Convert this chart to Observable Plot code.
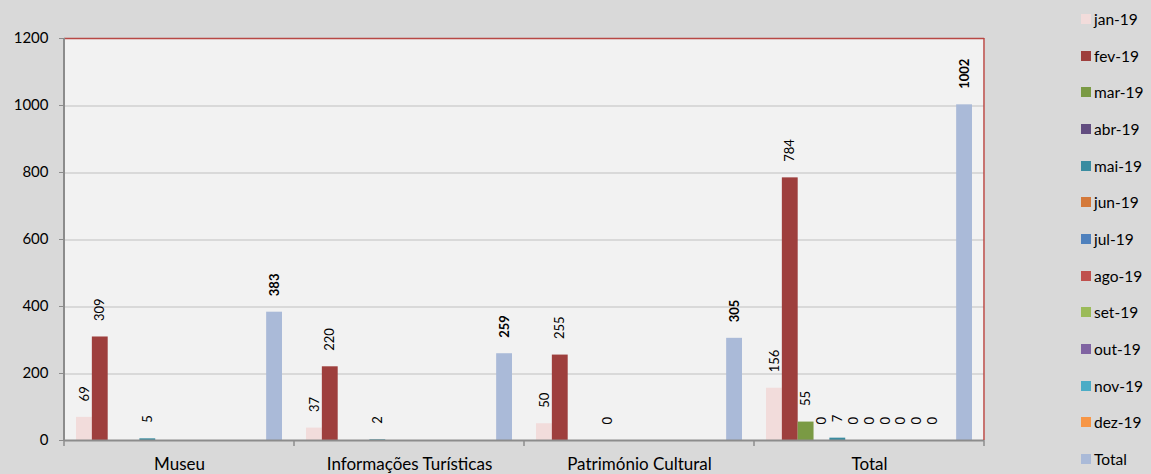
<!DOCTYPE html>
<html><head><meta charset="utf-8">
<script src="https://cdn.jsdelivr.net/npm/d3@7"></script>
<script src="https://cdn.jsdelivr.net/npm/@observablehq/plot@0.6"></script>
<style>
html,body{margin:0;padding:0;background:#d9d9d9;}
#wrap{position:relative;width:1151px;height:474px;overflow:hidden;background:#d9d9d9}
#legend{position:absolute;left:1081px;top:0;font-family:Lato,"Open Sans",sans-serif;font-size:15.5px;color:#000}
.item{position:absolute;left:0;height:18px;display:flex;align-items:center;white-space:nowrap}
.sw{width:10px;height:10px;margin-right:3px;flex:none}
</style></head><body><div id="wrap"><div id="chart"></div><div id="legend"></div></div>
<script>
const groups = ["Museu", "Informações Turísticas", "Património Cultural", "Total"];
const series = ["jan-19","fev-19","mar-19","abr-19","mai-19","jun-19","jul-19","ago-19","set-19","out-19","nov-19","dez-19","Total"];
const colors = ["#f2dcdb","#9e3f3d","#7a9a44","#624d80","#3a8ca0","#d4793a","#4f81bd","#c0504d","#9bbb59","#8064a2","#4bacc6","#f79646","#aabad8"];
const museu       = [69, 309, null, null, 5, null, null, null, null, null, null, null, 383];
const informacoes = [37, 220, null, null, 2, null, null, null, null, null, null, null, 259];
const patrimonio  = [50, 255, null, null, 0, null, null, null, null, null, null, null, 305];
const total       = [156, 784, 55, 0, 7, 0, 0, 0, 0, 0, 0, null, 1002];
const yTicks = [0, 200, 400, 600, 800, 1000, 1200];

const rows = [];
[museu, informacoes, patrimonio, total].forEach((vals, gi) =>
  vals.forEach((v, si) => { if (v != null) rows.push({group: groups[gi], series: series[si], value: v}); }));

const font = "Lato, 'Open Sans', sans-serif";
const plot = Plot.plot({
  width: 1151, height: 474,
  marginLeft: 64, marginRight: 167, marginTop: 38, marginBottom: 34,
  style: {background: "transparent", fontFamily: font, fontSize: "15px", color: "#000", overflow: "visible"},
  facet: {data: rows, x: "group"},
  fx: {domain: groups, paddingInner: 0, paddingOuter: 0, round: false, label: null, axis: "bottom", tickSize: 0, tickPadding: 17},
  x: {domain: series, axis: null, paddingInner: 0, paddingOuter: 0.757, round: false},
  y: {domain: [0, 1200], ticks: yTicks, tickSize: 5, tickPadding: 11, label: null, tickFormat: d => String(d)},
  color: {domain: series, range: colors},
  marks: [
    Plot.frame({fill: "#f2f2f2", stroke: "none", shapeRendering: "crispEdges"}),
    Plot.ruleY(yTicks.slice(1, -1), {stroke: "#d9d9d9", strokeWidth: 2, shapeRendering: "crispEdges"}),
    Plot.barY(rows, {x: "series", y: "value", fill: "series", insetLeft: 0, insetRight: 0}),
    Plot.text(rows, {filter: d => d.series !== "Total", x: "series", y: "value", text: d => String(d.value), rotate: -90, textAnchor: "start", dy: -16, fontSize: 13, fill: "#000"}),
    Plot.text(rows, {filter: d => d.series === "Total", x: "series", y: "value", text: d => String(d.value), rotate: -90, textAnchor: "start", dy: -16, fontSize: 13, fontWeight: "bold", fill: "#000"}),
    Plot.ruleY([0], {stroke: "#8c8c8c", strokeWidth: 2}),
    Plot.ruleY([1200], {stroke: "#b84845", strokeWidth: 1.5})
  ]
});
document.getElementById("chart").appendChild(plot);

// frame edges and group boundary ticks from the plot's own scales
const svg = d3.select(plot.tagName === "svg" ? plot : plot.querySelector("svg"));
const fx = plot.scale("fx"), ys = plot.scale("y");
const xr = fx.range, y0 = ys.apply(0), y1 = ys.apply(1200);
const g = svg.append("g");
g.append("line").attr("x1", xr[0]).attr("x2", xr[0]).attr("y1", y1).attr("y2", y0 + 1).attr("stroke", "#8c8c8c").attr("stroke-width", 2);
g.append("line").attr("x1", xr[1]).attr("x2", xr[1]).attr("y1", y1).attr("y2", y0).attr("stroke", "#b84845").attr("stroke-width", 1.5);
const bounds = groups.map(d => fx.apply(d)).concat([xr[1]]);
g.selectAll("line.b").data(bounds).join("line").attr("class", "b")
  .attr("x1", d => d).attr("x2", d => d).attr("y1", y0).attr("y2", y0 + 6).attr("stroke", "#8c8c8c").attr("stroke-width", 1.5);
// axis styling
svg.selectAll("[aria-label='y-axis tick'] path, [aria-label='y-axis tick'] line").attr("stroke", "#8c8c8c");
svg.selectAll("[aria-label='fx-axis tick label'] text, [aria-label='fx-axis tick label']").style("font-size", "17px");

// legend
const legend = document.getElementById("legend");
series.forEach((s, i) => {
  const it = document.createElement("div");
  it.className = "item";
  it.style.top = (19 + i * 36.65 - 9) + "px";
  it.innerHTML = `<span class="sw" style="background:${colors[i]}"></span><span>${s}</span>`;
  legend.appendChild(it);
});
</script></body></html>
